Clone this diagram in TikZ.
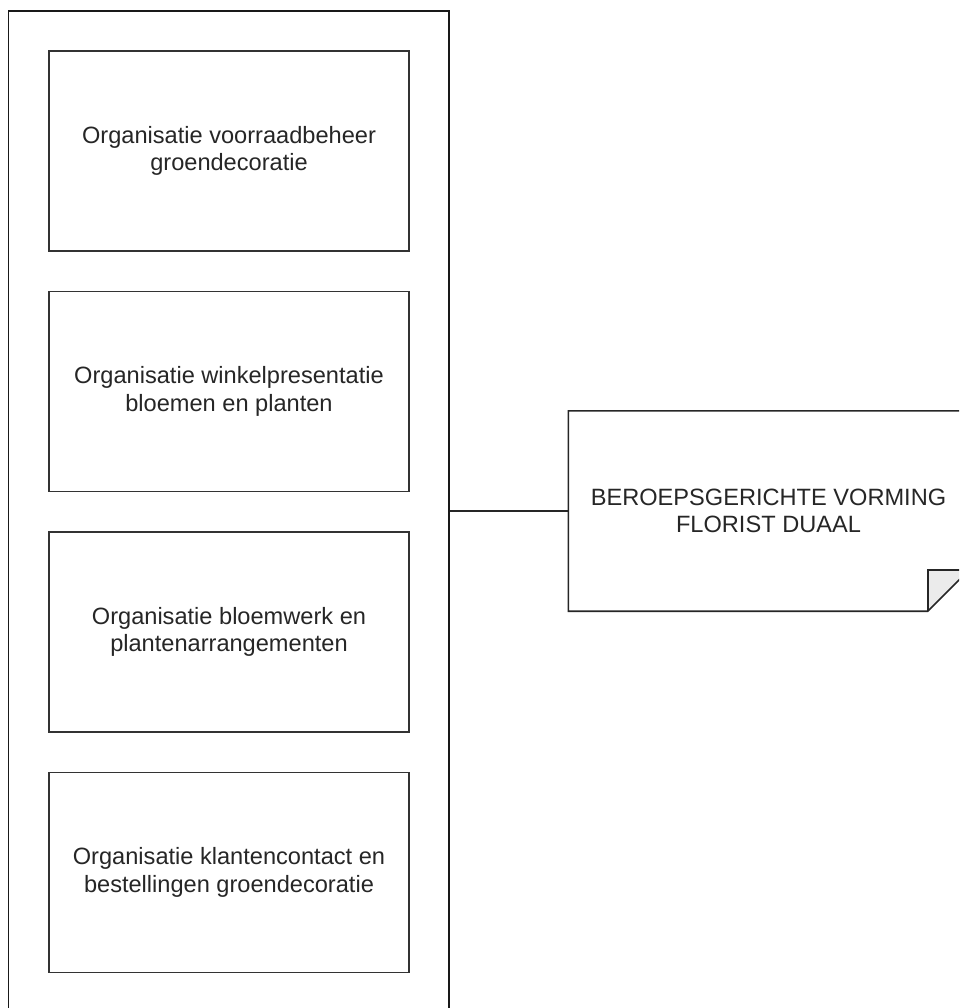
\documentclass[tikz,border=0pt]{standalone}
\usepackage{fontspec}
\setmainfont{Liberation Sans}
\begin{document}
\begin{tikzpicture}[x=1pt,y=-1pt,
  outerbox/.style={draw=black!90,line width=1.6pt,minimum width=440.5pt,minimum height=1000pt,inner sep=0pt},
  innerbox/.style={draw=black!80,line width=1.6pt,minimum width=360pt,minimum height=200pt,inner sep=0pt,align=center,text=black!85,font=\fontsize{23.6}{27.5}\selectfont},
  notetext/.style={minimum width=400pt,minimum height=200pt,inner sep=0pt,align=center,text=black!85,font=\fontsize{23.6}{27.5}\selectfont},
  line/.style={draw=black!85,line width=1.6pt}]
\useasboundingbox (0,0) rectangle (959,1008);
\clip (0,0) rectangle (959,1008);
\fill[white] (0,0) rectangle (959,1008);
\node[outerbox] (outer) at (228.75,511) {};
\node[innerbox] (b1) at (229,151) {Organisatie voorraadbeheer\\groendecoratie};
\node[innerbox] (b2) at (229,391.5) {Organisatie winkelpresentatie\\bloemen en planten};
\node[innerbox] (b3) at (229,632) {Organisatie bloemwerk en\\plantenarrangementen};
\node[innerbox] (b4) at (229,872.5) {Organisatie klantencontact en\\bestellingen groendecoratie};
\node[notetext] (note) at (768.5,511) {BEROEPSGERICHTE VORMING\\FLORIST DUAAL};
\coordinate (fa) at ([xshift=-41pt]note.south east);
\coordinate (fb) at ([yshift=41pt]note.south east);
\coordinate (fc) at ([xshift=-41pt,yshift=41pt]note.south east);
\fill[black!8] (fa) -- (fc) -- (fb) -- cycle;
\draw[line,line join=miter] (note.north west) -- (note.north east) -- (fb) -- (fa) -- (note.south west) -- cycle;
\draw[line] (fa) -- (fc) -- (fb);
\draw[line] (outer.east) -- (note.west);
\end{tikzpicture}
\end{document}
